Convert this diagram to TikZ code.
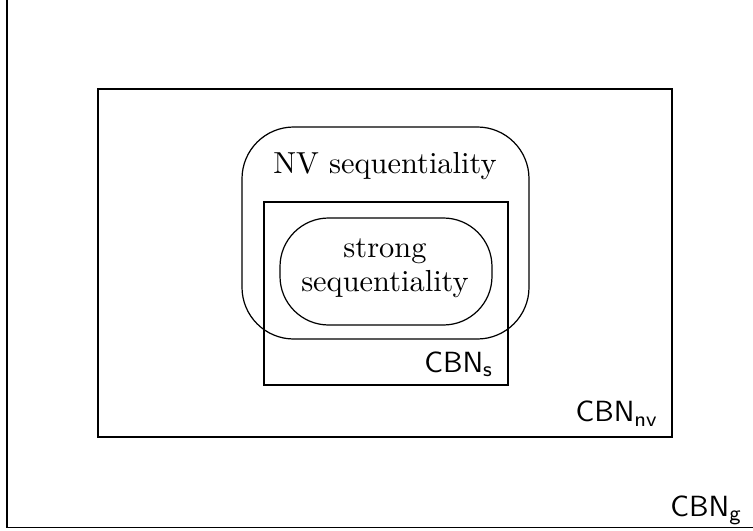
\documentclass[tikz,border=0pt]{standalone}
\usepackage{tikz}

\tikzset{
	netclass/.style={draw, line width=0.4pt},
	seqclass/.style={draw, line width=0.4pt, rounded corners=#1},
	classname/.style={font=\fontsize{9.6}{11}\sffamily, anchor=base east, inner sep=0pt}
}

\begin{document}
\begin{tikzpicture}[x=0.3287pt, y=-0.3287pt]
			\useasboundingbox (0,0) rectangle (753,531);
			\clip (0,0) rectangle (753,531);
			\path [fill=white] (0,0) rectangle (753,531);

			% the net classes, one inside the other
			\draw [netclass] (7,-10) rectangle (757,527.5);
			\draw [netclass] (98,89) rectangle (672,437);
			\draw [netclass] (264,202) rectangle (508,385);

			% the two sequentiality notions
			\draw [seqclass=17pt] (242,127) rectangle (529,339);
			\draw [seqclass=16pt] (280,218) rectangle (492,325);

			\node (nvseq) [anchor=base] at (385,173) {NV sequentiality};
			\node (strongseq) [align=center, font=\fontsize{10}{11.1}\selectfont]
				at (385,268.5) {strong\\sequentiality};

			\node (cbng) [classname] at (743,516) {CBN$_\mathsf{g}$};
			\node (cbnnv) [classname] at (659,421.5) {CBN$_\mathsf{nv}$};
			\node (cbns) [classname] at (494,372) {CBN$_\mathsf{s}$};
		\end{tikzpicture}
\end{document}
